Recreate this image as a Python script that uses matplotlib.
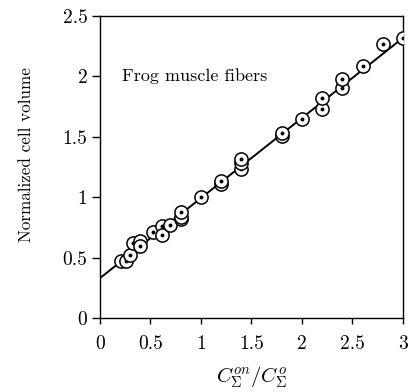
import matplotlib
matplotlib.use('Agg')
import matplotlib.pyplot as plt
import numpy as np

plt.rcParams['font.family'] = 'serif'
plt.rcParams['font.serif'] = ['cmr10']
plt.rcParams['mathtext.fontset'] = 'cm'
plt.rcParams['axes.formatter.use_mathtext'] = True

# measured points (ratio, normalized volume)
ratio = [0.21, 0.26, 0.30, 0.33, 0.40, 0.40, 0.52, 0.61, 0.61, 0.69,
         0.80, 0.80, 0.80, 1.0, 1.2, 1.2, 1.4, 1.4, 1.4, 1.8,
         1.8, 2.0, 2.2, 2.2, 2.4, 2.4, 2.6, 2.8, 3.0]
volume = [0.47, 0.47, 0.52, 0.62, 0.64, 0.60, 0.71, 0.76, 0.69, 0.77,
          0.82, 0.84, 0.88, 1.0, 1.11, 1.13, 1.23, 1.28, 1.32, 1.51,
          1.53, 1.65, 1.73, 1.82, 1.90, 1.98, 2.09, 2.27, 2.32]

# fitted line
fit_intercept = 0.33
fit_slope = 0.663

fig = plt.figure(figsize=(4.11, 3.92), dpi=100)
ax = fig.add_axes([0.2433, 0.1888, 0.7372, 0.7704])

xs = np.array([0, 3])
ax.plot(xs, fit_intercept + fit_slope * xs, color='k', lw=1.4, zorder=2)

for i, (x, y) in enumerate(zip(ratio, volume)):
    ax.plot(x, y, 'o', ms=9.5, mfc='white', mec='k', mew=1.1, zorder=3 + 2 * i)
    ax.plot(x, y, 'o', ms=1.8, mfc='k', mec='k', zorder=4 + 2 * i)

ax.text(0.22, 2.0, 'Frog muscle fibers', fontsize=13, ha='left', va='center')

ax.set_xlim(0, 3)
ax.set_ylim(0, 2.5)
ax.set_xticks([0, 0.5, 1, 1.5, 2, 2.5, 3])
ax.set_xticklabels(['0', '0.5', '1', '1.5', '2', '2.5', '3'])
ax.set_yticks([0, 0.5, 1, 1.5, 2, 2.5])
ax.set_yticklabels(['0', '0.5', '1', '1.5', '2', '2.5'])
ax.tick_params(axis='x', direction='out', length=4, width=1, labelsize=14, pad=8)
ax.tick_params(axis='y', direction='out', length=6, width=1, labelsize=14, pad=3)
for s in ax.spines.values():
    s.set_linewidth(1.0)

ax.set_xlabel(r'$C_\Sigma^{on}/C_\Sigma^{o}$', fontsize=15)
ax.xaxis.set_label_coords(0.5, -0.156)
ax.xaxis.label.set_va('top')
ax.set_ylabel('Normalized cell volume', fontsize=12.3)
ax.yaxis.set_label_coords(-0.244, 0.54)
ax.yaxis.label.set_va('center')

fig.savefig('out.png', dpi=100)
